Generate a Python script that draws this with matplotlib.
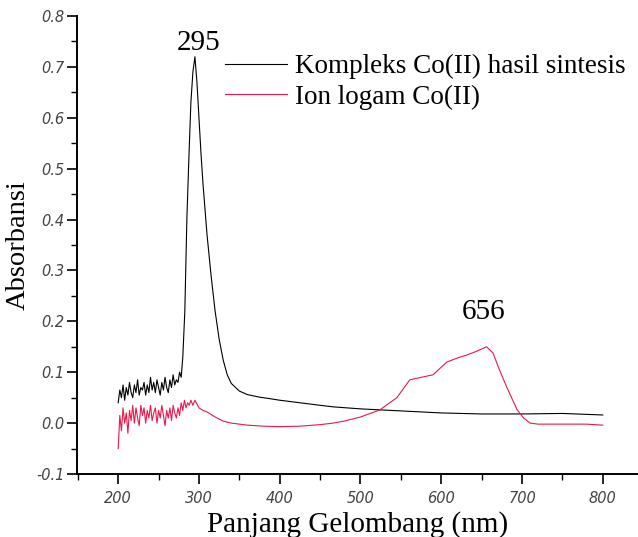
import matplotlib
matplotlib.use("Agg")
import matplotlib.pyplot as plt
from matplotlib.ticker import MultipleLocator

# data (nm, absorbance)
# noisy start of both spectra sampled every 2 nm
wl_kompleks = list(range(200, 282, 2)) + [282.5, 285, 287.5, 290, 292.5, 295, 297.5, 300,
               302.5, 305, 310, 315, 320, 325, 330, 335, 340, 350, 360, 375, 384, 400,
               425, 450, 466, 500, 550, 600, 650, 700, 750, 800]
abs_kompleks = [0.04, 0.065, 0.05, 0.075, 0.045, 0.07, 0.055, 0.08, 0.06, 0.05, 0.075,
                0.06, 0.085, 0.055, 0.07, 0.065, 0.08, 0.055, 0.075, 0.06, 0.09, 0.065,
                0.08, 0.06, 0.085, 0.07, 0.055, 0.08, 0.065, 0.09, 0.07, 0.06, 0.085,
                0.07, 0.095, 0.075, 0.085, 0.08, 0.1, 0.09, 0.13,
                0.22, 0.4, 0.52, 0.63, 0.69, 0.72, 0.67, 0.6, 0.53, 0.47, 0.37, 0.29,
                0.22, 0.165, 0.124, 0.095, 0.078, 0.063, 0.056, 0.051, 0.049, 0.045,
                0.04, 0.035, 0.032, 0.028, 0.024, 0.02, 0.018, 0.018, 0.019, 0.016]

wl_ion = list(range(200, 292, 2)) + [292.5, 295, 300, 305, 310, 320, 330, 340, 360, 380,
          400, 425, 450, 466, 480, 500, 524, 545, 561, 575, 590, 600, 607, 620, 632,
          645, 656, 664, 672, 681, 694, 702, 710, 720, 750, 780, 800]
abs_ion = [-0.05, 0.015, -0.015, 0.03, 0.0, 0.02, -0.02, 0.025, 0.005, 0.035, 0.0, 0.03,
           0.01, -0.005, 0.035, 0.015, 0.03, 0.0, 0.025, 0.01, 0.035, 0.005, 0.02, 0.03,
           0.0, 0.025, 0.01, 0.035, 0.015, -0.005, 0.025, 0.01, 0.03, 0.005, 0.035, 0.02,
           0.01, 0.03, 0.015, 0.04, 0.025, 0.045, 0.03, 0.04, 0.035, 0.045,
           0.035, 0.045, 0.03, 0.025, 0.022, 0.012, 0.004, 0.0, -0.004, -0.006,
           -0.007, -0.006, -0.003, 0.0, 0.004, 0.012, 0.026, 0.05, 0.085, 0.09, 0.095,
           0.11, 0.12, 0.128, 0.134, 0.142, 0.15, 0.138, 0.105, 0.071, 0.026, 0.01, 0.0,
           -0.002, -0.002, -0.002, -0.004]

labels = ["Kompleks Co(II) hasil sintesis", "Ion logam Co(II)"]
peaks = [(295, "295"), (656, "656")]

fig = plt.figure(figsize=(6.38, 5.37), dpi=100)
ax = fig.add_axes([0.1207, 0.1173, 0.8793, 0.8529])

ax.plot(wl_kompleks, abs_kompleks, color="black", lw=0.8, label=labels[0])
ax.plot(wl_ion, abs_ion, color="#e8194b", lw=0.8, label=labels[1])

ax.set_xlim(149, 843.6)
ax.set_ylim(-0.1, 0.8)
ax.xaxis.set_major_locator(MultipleLocator(100))
ax.xaxis.set_minor_locator(MultipleLocator(50))
ax.yaxis.set_major_locator(MultipleLocator(0.1))
ax.yaxis.set_minor_locator(MultipleLocator(0.05))
ax.yaxis.set_major_formatter(plt.FuncFormatter(lambda v, p: "%.1f" % (0.0 if abs(v) < 1e-9 else v)))

for s in ["top", "right"]:
    ax.spines[s].set_visible(False)
for s in ["left", "bottom"]:
    ax.spines[s].set_linewidth(1.4)

ax.tick_params(which="major", length=7, width=1.2, colors="black")
ax.tick_params(axis="x", which="major", pad=5)
ax.tick_params(axis="y", which="major", pad=2)
ax.tick_params(which="minor", length=4, width=1.0)
for t in ax.get_xticklabels() + ax.get_yticklabels():
    t.set_fontfamily("DejaVu Sans")
    t.set_fontstyle("italic")
    t.set_fontsize(10.5)
    t.set_color("#444444")

serif = "Liberation Serif"
ax.set_xlabel("Panjang Gelombang (nm)", fontfamily=serif, fontsize=21, labelpad=4)
ax.set_ylabel("Absorbansi", fontfamily=serif, fontsize=20.5, labelpad=4)

# peak labels
ax.text(peaks[0][0] + 5, 0.722, peaks[0][1], fontfamily=serif, fontsize=21,
        ha="center", va="bottom")
ax.text(peaks[1][0] - 3, 0.193, peaks[1][1], fontfamily=serif, fontsize=21,
        ha="center", va="bottom")

leg = ax.legend(loc="center left", bbox_to_anchor=(225 / 638, 1 - 82 / 537),
                bbox_transform=fig.transFigure, frameon=False,
                prop={"family": serif, "size": 19.5}, handlelength=2.3,
                handletextpad=0.3, labelspacing=0.2, borderpad=0, borderaxespad=0)

fig.savefig("out.png", dpi=100)
